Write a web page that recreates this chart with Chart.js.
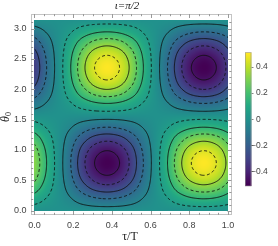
<!DOCTYPE html>
<html><head><meta charset="utf-8">
<script src="https://cdn.jsdelivr.net/npm/chart.js@4.4.1/dist/chart.umd.min.js"></script>
<style>html,body{margin:0;padding:0;background:#fff;overflow:hidden}canvas{display:block}</style>
</head><body><canvas id="c" width="278" height="246"></canvas>
<script>
// ---- data ----
const tauT = [0,0.0625,0.125,0.1875,0.25,0.3125,0.375,0.4375,0.5,0.5625,0.625,0.6875,0.75,0.8125,0.875,0.9375,1];
const tauProfile = [0.648,0.301,0,-0.301,-0.648,-0.906,-1,-0.906,-0.648,-0.301,0,0.301,0.648,0.906,1,0.906,0.648];
const theta0 = [0,0.196,0.393,0.589,0.785,0.982,1.178,1.374,1.571,1.767,1.963,2.160,2.356,2.553,2.749,2.945,3.142];
const thetaProfile = [0,0.301,0.648,0.906,1,0.906,0.648,0.301,0,-0.301,-0.648,-0.906,-1,-0.906,-0.648,-0.301,0];
const amplitude = 0.5;
const contourLevels = [-0.45,-0.35,-0.25,-0.15,-0.05,0.05,0.15,0.25,0.35,0.45];
const contourDashed = [false,true,false,true,false,true,false,true,false,true];
const xTickValues = [0,0.2,0.4,0.6,0.8,1.0];
const xTickLabels = ['0.0','0.2','0.4','0.6','0.8','1.0'];
const yTickValues = [0,0.5,1,1.5,2,2.5,3];
const yTickLabels = ['0.0','0.5','1.0','1.5','2.0','2.5','3.0'];
const cbTickValues = [-0.4,-0.2,0,0.2,0.4];
const cbTickLabels = ['\u22120.4','\u22120.2','0','0.2','0.4'];
const cbRange = [-0.5,0.5];
const titleText = '\u03b9=\u03c0/2';
const xTitle = '\u03c4/T';

// ---- helpers ----
const viridisStops = ['#440154','#482475','#414487','#355f8d','#2a788e','#21918c','#22a884','#44bf70','#7ad151','#bddf26','#fde725']
  .map(h=>[parseInt(h.slice(1,3),16),parseInt(h.slice(3,5),16),parseInt(h.slice(5,7),16)]);
function viridis(t){
  t=Math.max(0,Math.min(1,t))*(viridisStops.length-1);
  const i=Math.min(viridisStops.length-2,Math.floor(t)), f=t-i;
  const a=viridisStops[i], b=viridisStops[i+1];
  return [a[0]+(b[0]-a[0])*f, a[1]+(b[1]-a[1])*f, a[2]+(b[2]-a[2])*f];
}
function interp(samples, vals, v){
  const n=samples.length, s0=samples[0], s1=samples[n-1];
  let u=(v-s0)/(s1-s0)*(n-1);
  let i=Math.floor(u); if(i>=n-1) i=n-2; if(i<0) i=0;
  const f=u-i;
  const g=k=>{ if(k<0) return vals[k+n-1]; if(k>n-1) return vals[k-(n-1)]; return vals[k]; };
  const p0=g(i-1),p1=g(i),p2=g(i+1),p3=g(i+2);
  return 0.5*((2*p1)+(-p0+p2)*f+(2*p0-5*p1+4*p2-p3)*f*f+(-p0+3*p1-3*p2+p3)*f*f*f);
}

function traceContours(g, xsArr, ysArr, L){
  const nx=xsArr.length, ny=ysArr.length;
  const pts=new Map(), adj=new Map();
  function ep(id,xa,ya,va,xb,yb,vb){ if(!pts.has(id)){const t=(L-va)/(vb-va); pts.set(id,[xa+t*(xb-xa),ya+t*(yb-ya)]);} return id; }
  function link(a,b){ if(!adj.has(a))adj.set(a,[]); if(!adj.has(b))adj.set(b,[]); adj.get(a).push(b); adj.get(b).push(a); }
  for(let j=0;j<ny-1;j++)for(let i=0;i<nx-1;i++){
    const v00=g[j][i],v10=g[j][i+1],v01=g[j+1][i],v11=g[j+1][i+1];
    const B=(v00<L)!==(v10<L)?ep('h'+i+'_'+j,xsArr[i],ysArr[j],v00,xsArr[i+1],ysArr[j],v10):null;
    const R=(v10<L)!==(v11<L)?ep('v'+(i+1)+'_'+j,xsArr[i+1],ysArr[j],v10,xsArr[i+1],ysArr[j+1],v11):null;
    const T=(v01<L)!==(v11<L)?ep('h'+i+'_'+(j+1),xsArr[i],ysArr[j+1],v01,xsArr[i+1],ysArr[j+1],v11):null;
    const Lf=(v00<L)!==(v01<L)?ep('v'+i+'_'+j,xsArr[i],ysArr[j],v00,xsArr[i],ysArr[j+1],v01):null;
    const c=[B,R,T,Lf].filter(x=>x!==null);
    if(c.length===2) link(c[0],c[1]);
    else if(c.length===4){ const cen=(v00+v10+v01+v11)/4; if((cen<L)===(v00<L)){link(B,R);link(T,Lf);}else{link(B,Lf);link(R,T);} }
  }
  const visited=new Set(), lines=[];
  function walk(s){ const line=[pts.get(s)]; visited.add(s); let prev=null,cur=s;
    while(true){ const nb=(adj.get(cur)||[]).filter(n=>n!==prev&&!visited.has(n)); if(!nb.length)break; prev=cur; cur=nb[0]; visited.add(cur); line.push(pts.get(cur)); }
    return line; }
  for(const [id,n] of adj) if(n.length===1&&!visited.has(id)) lines.push({p:walk(id),closed:false});
  for(const id of adj.keys()) if(!visited.has(id)) lines.push({p:walk(id),closed:true});
  return lines;
}

const fieldPlugin = {
  id:'field',
  beforeDatasetsDraw(chart){
    const ctx=chart.ctx, X=chart.scales.x, Y=chart.scales.y;
    const x0=X.getPixelForValue(tauT[0]), x1=X.getPixelForValue(tauT[tauT.length-1]);
    const y0=Y.getPixelForValue(theta0[theta0.length-1]), y1=Y.getPixelForValue(theta0[0]);
    const W=Math.ceil(x1-x0), H=Math.ceil(y1-y0);
    const off=document.createElement('canvas'); off.width=W; off.height=H;
    const octx=off.getContext('2d'); const img=octx.createImageData(W,H);
    const colP=[], rowP=[];
    for(let i=0;i<W;i++) colP.push(interp(tauT,tauProfile,X.getValueForPixel(x0+(i+0.5)*(x1-x0)/W)));
    for(let j=0;j<H;j++) rowP.push(interp(theta0,thetaProfile,Y.getValueForPixel(y0+(j+0.5)*(y1-y0)/H)));
    for(let j=0;j<H;j++)for(let i=0;i<W;i++){
      const v=amplitude*colP[i]*rowP[j];
      const c=viridis((v-cbRange[0])/(cbRange[1]-cbRange[0]));
      const k=(j*W+i)*4; img.data[k]=c[0]; img.data[k+1]=c[1]; img.data[k+2]=c[2]; img.data[k+3]=255;
    }
    octx.putImageData(img,0,0);
    ctx.save();
    ctx.drawImage(off,x0,y0,x1-x0,y1-y0);
    ctx.beginPath(); ctx.rect(x0,y0,x1-x0,y1-y0); ctx.clip();
    const N=220, gx=[], gy=[];
    for(let i=0;i<=N;i++){ gx.push(tauT[0]+(tauT[tauT.length-1]-tauT[0])*i/N); gy.push(theta0[0]+(theta0[theta0.length-1]-theta0[0])*i/N); }
    const gxP=gx.map(t=>interp(tauT,tauProfile,t));
    const g=gy.map(th=>{const r=interp(theta0,thetaProfile,th); return gxP.map(a=>amplitude*a*r);});
    ctx.lineWidth=0.95; ctx.strokeStyle='rgba(15,15,15,0.92)';
    contourLevels.forEach((L,li)=>{
      ctx.setLineDash(contourDashed[li]?[3,2.4]:[]);
      traceContours(g,gx,gy,L).forEach(ln=>{
        ctx.beginPath();
        ln.p.forEach((p,k)=>{const px=X.getPixelForValue(p[0]),py=Y.getPixelForValue(p[1]); k?ctx.lineTo(px,py):ctx.moveTo(px,py);});
        if(ln.closed) ctx.closePath();
        ctx.stroke();
      });
    });
    ctx.restore();
  },
  afterDraw(chart){
    const ctx=chart.ctx, X=chart.scales.x, Y=chart.scales.y, a=chart.chartArea;
    ctx.save();
    ctx.strokeStyle='#c4c4c4'; ctx.lineWidth=1; ctx.setLineDash([]);
    ctx.strokeRect(Math.round(a.left)+0.5,Math.round(a.top)+0.5,Math.round(a.right-a.left)-1,Math.round(a.bottom-a.top)-1);
    ctx.strokeStyle='#9a9a9a';
    ctx.beginPath();
    for(let k=0;k<=20;k++){ const v=k*0.05; const px=Math.round(X.getPixelForValue(v))+0.5; const len=(k%4===0)?4:2.2;
      ctx.moveTo(px,a.bottom); ctx.lineTo(px,a.bottom-len); ctx.moveTo(px,a.top); ctx.lineTo(px,a.top+len); }
    for(let k=0;k<=31;k++){ const v=k*0.1; const py=Math.round(Y.getPixelForValue(v))+0.5; const len=(k%5===0)?4:2.2;
      ctx.moveTo(a.left,py); ctx.lineTo(a.left+len,py); ctx.moveTo(a.right,py); ctx.lineTo(a.right-len,py); }
    ctx.stroke();
    const cbL=245, cbR=251.5, cbT=54, cbB=184.5;
    const cbY=v=>cbB-(v-cbRange[0])/(cbRange[1]-cbRange[0])*(cbB-cbT);
    const grad=ctx.createLinearGradient(0,cbB,0,cbT);
    for(let k=0;k<=20;k++){const c=viridis(k/20); grad.addColorStop(k/20,`rgb(${c[0]|0},${c[1]|0},${c[2]|0})`);}
    ctx.fillStyle=grad; ctx.fillRect(cbL,cbT-1.5,cbR-cbL,cbB-cbT+3);
    ctx.strokeStyle='rgba(150,150,150,0.6)'; ctx.strokeRect(cbL+0.5,cbT-1.5,cbR-cbL-1,cbB-cbT+3);
    ctx.strokeStyle='#888'; ctx.beginPath();
    cbTickValues.forEach(v=>{const y=Math.round(cbY(v))+0.5; ctx.moveTo(cbR,y); ctx.lineTo(cbR+2,y);});
    ctx.stroke();
    ctx.fillStyle='#444'; ctx.font='8.5px "Liberation Sans", Arial, sans-serif'; ctx.textBaseline='middle';
    cbTickValues.forEach((v,i)=>{const y=cbY(v); const s=cbTickLabels[i];
      if(s[0]==='\u2212'){ ctx.textAlign='right'; ctx.fillText('\u2212',256.3,y); ctx.textAlign='left'; ctx.fillText(s.slice(1),256,y);}
      else { ctx.textAlign='left'; ctx.fillText(s,256,y);} });
    ctx.fillStyle='#222'; ctx.textAlign='center'; ctx.textBaseline='middle';
    ctx.font='italic 11px "Liberation Serif", serif';
    ctx.fillText(titleText,127,6.5);
    ctx.font='12px "Liberation Serif", serif';
    ctx.fillText(xTitle,130,236.5);
    ctx.save(); ctx.translate(5.5,117); ctx.rotate(-Math.PI/2);
    ctx.font='italic 12px "Liberation Serif", serif'; ctx.textAlign='left';
    ctx.fillText('\u03b8',-5,0);
    ctx.font='8px "Liberation Serif", serif'; ctx.fillText('0',1,3);
    ctx.restore();
    ctx.restore();
  }
};

new Chart(document.getElementById('c'),{
  type:'scatter',
  data:{datasets:[{data:[],pointRadius:0}]},
  options:{
    responsive:false, animation:false, devicePixelRatio:1,
    layout:{padding:{left:0,right:46.5,top:14,bottom:0}},
    plugins:{legend:{display:false},tooltip:{enabled:false},title:{display:false}},
    scales:{
      x:{type:'linear',min:-0.018,max:1.018,
        afterBuildTicks:s=>{s.ticks=xTickValues.map(v=>({value:v}));},
        afterFit:s=>{s.height=31;},
        grid:{display:false,drawTicks:false},border:{display:false},
        ticks:{callback:(v,i)=>xTickLabels[i],autoSkip:false,maxRotation:0,padding:5,color:'#444',font:{family:'"Liberation Sans", Arial, sans-serif',size:9}}},
      y:{type:'linear',min:-0.071,max:3.240,
        afterBuildTicks:s=>{s.ticks=yTickValues.map(v=>({value:v}));},
        afterFit:s=>{s.width=31;},
        grid:{display:false,drawTicks:false},border:{display:false},
        ticks:{callback:(v,i)=>yTickLabels[i],autoSkip:false,padding:4.5,color:'#444',font:{family:'"Liberation Sans", Arial, sans-serif',size:9}}}
    }
  },
  plugins:[fieldPlugin]
});
</script>
</body></html>
